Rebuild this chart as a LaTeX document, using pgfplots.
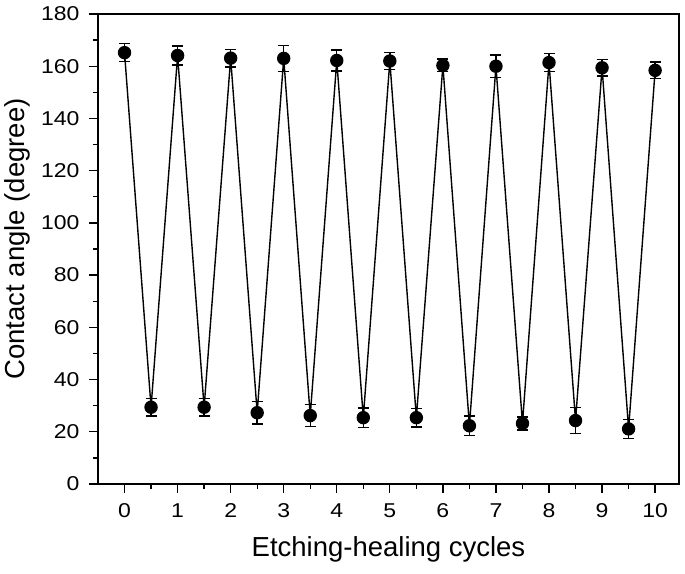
\documentclass[border=0pt]{standalone}
\usepackage{pgfplots}
\pgfplotsset{compat=1.18}
\usepackage{fontspec}
\setmainfont{Liberation Sans}
\newfontfamily\tickfont[FakeStretch=1.15]{Liberation Sans}
\begin{document}
\begin{tikzpicture}
\begin{axis}[
  scale only axis, width=581pt, height=470pt,
  xmin=-0.5, xmax=10.45, ymin=0, ymax=180,
  xtick={0,...,10}, minor x tick num=1,
  ytick={0,20,...,180}, minor y tick num=1,
  tick align=outside, tick pos=left,
  major tick length=9pt, minor tick length=5pt,
  axis line style={line width=1.5pt}, every tick/.style={line width=1.3pt,black},
  ticklabel style={font=\tickfont\fontsize{20}{22}\selectfont},
  xticklabel style={yshift=-7pt},
  yticklabel style={xshift=-6pt},
  /pgf/number format/assume math mode=true,
  xlabel={Etching-healing cycles}, ylabel={Contact angle (degree)},
  label style={font=\fontsize{27.5}{30}\selectfont},
  xlabel style={yshift=-12pt}, ylabel style={yshift=4pt, xshift=10pt},
  clip=false,
]
\addplot[black, line width=1.4pt, mark=*, mark size=6pt,
  error bars/.cd, y dir=both, y explicit, error mark options={rotate=90, mark size=5.5pt, line width=1.4pt}, error bar style={line width=1.4pt}]
  table[x=x, y=y, y error=e] {
x y e
0 165.2 3.5
0.5 29.4 3.3
1 164.1 3.7
1.5 29.4 3.4
2 163.1 3.4
2.5 27.3 4.3
3 163.0 5.0
3.5 26.2 4.2
4 162.2 4.0
4.5 25.4 3.7
5 162.0 3.3
5.5 25.4 3.5
6 160.3 2.4
6.5 22.3 3.7
7 160.0 4.3
7.5 23.2 2.5
8 161.4 3.5
8.5 24.3 5.0
9 159.4 3.1
9.5 21.1 3.6
10 158.4 3.2
};
\path (rel axis cs:0,0) ++(-98pt,-89pt) coordinate (bl);
\path (rel axis cs:1,1) ++(6pt,14pt) coordinate (tr);
\end{axis}
\path[use as bounding box] (bl) rectangle (tr);
\end{tikzpicture}
\end{document}
